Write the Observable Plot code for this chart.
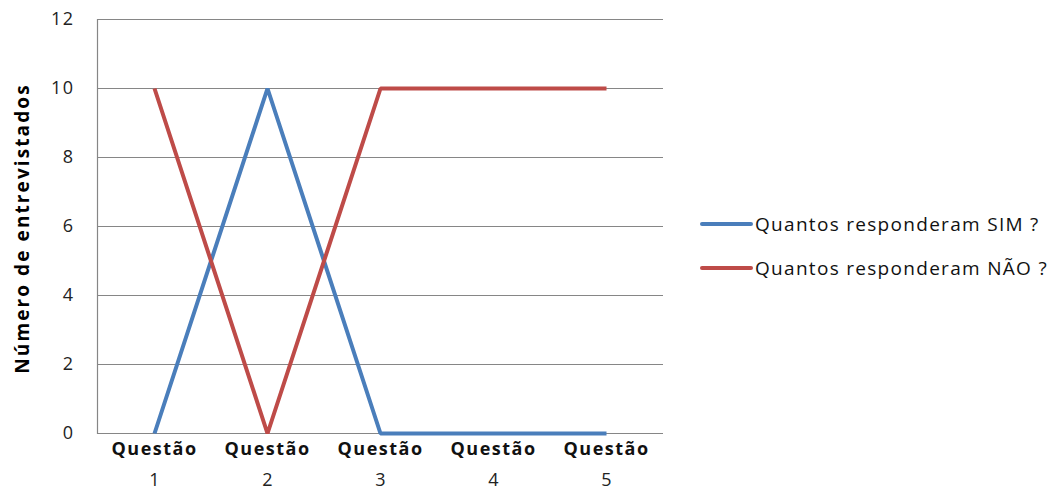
<!DOCTYPE html>
<html>
<head>
<meta charset="utf-8">
<script src="https://cdn.jsdelivr.net/npm/d3@7"></script>
<script src="https://cdn.jsdelivr.net/npm/@observablehq/plot@0.6"></script>
<style>
  body { margin: 0; background: #fff; font-family: "Open Sans", sans-serif; }
  #wrap { position: relative; width: 1062px; height: 492px; }
  #legend { position: absolute; left: 700px; top: 0; font-family: "Open Sans", sans-serif; font-size: 19px; letter-spacing: 1.3px; color: #111; }
  .item { position: absolute; white-space: nowrap; display: flex; align-items: center; }
  .sw { width: 53px; height: 4px; border-radius: 2px; margin-right: 2px; }
</style>
</head>
<body>
<div id="wrap"><div id="legend"></div></div>
<script>
const questions = [1, 2, 3, 4, 5];
const simValues = [0, 10, 0, 0, 0];
const naoValues = [10, 0, 10, 10, 10];
const seriesNames = ["Quantos responderam SIM ?", "Quantos responderam NÃO ?"];
const seriesColors = ["#4A7EBB", "#BE4B48"];
const yTicks = [0, 2, 4, 6, 8, 10, 12];
const yTitle = "Número de entrevistados";

const data = [];
questions.forEach((q, i) => {
  data.push({q, v: simValues[i], s: seriesNames[0]});
});
questions.forEach((q, i) => {
  data.push({q, v: naoValues[i], s: seriesNames[1]});
});

const chart = Plot.plot({
  width: 1062,
  height: 492,
  marginLeft: 97,
  marginRight: 399,
  marginTop: 19,
  marginBottom: 59,
  style: {fontFamily: "Open Sans, sans-serif", fontSize: "18px", color: "#000", background: "#fff"},
  x: {type: "point", domain: questions, padding: 0.5},
  y: {domain: [0, 12]},
  color: {domain: seriesNames, range: seriesColors},
  marks: [
    Plot.gridY(yTicks, {stroke: "#868686", strokeOpacity: 1, strokeWidth: 1.2}),
    Plot.frame({anchor: "left", stroke: "#868686", strokeWidth: 1.2}),
    Plot.axisY({ticks: yTicks, tickSize: 0, tickPadding: 23, label: null, fontSize: 18, fill: "#222", className: "ytick"}),
    Plot.axisX({tickSize: 0, tickPadding: 9, tickFormat: () => "Questão", fontWeight: "bold", fontSize: 18, label: null, fill: "#111", className: "xq"}),
    Plot.axisX({tickSize: 0, tickPadding: 40, tickFormat: d => String(d), fontSize: 18, label: null, fill: "#222"}),
    Plot.text([yTitle], {frameAnchor: "left", textAnchor: "middle", rotate: -90, dx: -75, dy: 2, fontWeight: "bold", fontSize: 19, className: "ytitle"}),
    Plot.line(data, {x: "q", y: "v", stroke: "s", z: "s", strokeWidth: 4, strokeLinejoin: "miter", strokeLinecap: "butt"})
  ]
});
d3.select(chart).selectAll(".ytitle text").style("letter-spacing", "2.1px");
d3.select(chart).selectAll(".xq text").style("letter-spacing", "1.5px");
d3.select(chart).selectAll(".ytick text").style("letter-spacing", "1.5px");
document.getElementById("wrap").prepend(chart);

const legend = document.getElementById("legend");
const legendY = [224, 268];
seriesNames.forEach((name, i) => {
  const item = document.createElement("div");
  item.className = "item";
  item.style.top = (legendY[i] - 13) + "px";
  item.style.height = "26px";
  const sw = document.createElement("span");
  sw.className = "sw";
  sw.style.background = seriesColors[i];
  const t = document.createElement("span");
  t.textContent = name;
  item.append(sw, t);
  legend.append(item);
});
</script>
</body>
</html>
